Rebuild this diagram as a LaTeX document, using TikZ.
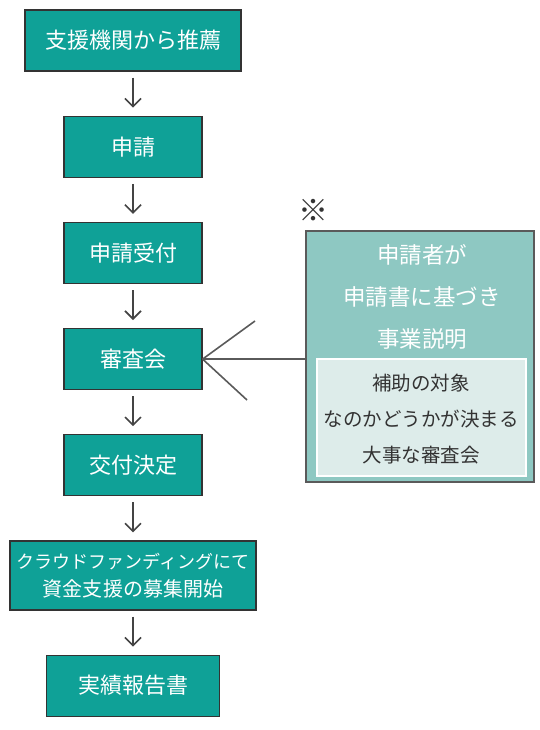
\documentclass[tikz,border=0pt]{standalone}
\usepackage{fontspec}
\newfontfamily\jp{Noto Sans CJK JP}
\usetikzlibrary{arrows.meta,positioning}
\definecolor{stepteal}{HTML}{0FA197}
\definecolor{boxline}{HTML}{333333}
\definecolor{arrowgray}{HTML}{444444}
\definecolor{notefill}{HTML}{8EC8C2}
\definecolor{notegray}{HTML}{5A5A5A}
\definecolor{innerfill}{HTML}{DDECEA}
\definecolor{darktext}{HTML}{333333}

\begin{document}
\begin{tikzpicture}[x=1pt,y=1pt,node distance=44pt,
  stepbox/.style={rectangle,draw=boxline,line width=1.2pt,fill=stepteal,text=white,minimum height=61pt,inner sep=0pt,font=\jp\fontsize{22pt}{26pt}\selectfont},
  flow/.style={draw=arrowgray,line width=1.6pt,-{Straight Barb[length=8pt,width=16pt,line width=1.6pt]},shorten <=6pt,shorten >=8pt},
  fanline/.style={draw=notegray,line width=1.6pt}]

\useasboundingbox (0,0) rectangle (540,-730);

% Nodes
\node[stepbox,minimum width=216pt] (recommend) at (133,-40.5) {支援機関から推薦};
\node[stepbox,minimum width=138pt,below=of recommend] (apply) {申請};
\node[stepbox,minimum width=138pt,below=of apply] (accept) {申請受付};
\node[stepbox,minimum width=138pt,below=of accept] (review) {審査会};
\node[stepbox,minimum width=138pt,below=of review] (grant) {交付決定};
\node[stepbox,minimum width=246pt,minimum height=69pt,align=center,font=\jp\fontsize{18pt}{28pt}\selectfont,below=of grant] (funding) {クラウドファンディングにて\\\fontsize{20pt}{28pt}\selectfont 資金支援の募集開始};
\node[stepbox,minimum width=173pt,below=of funding] (report) {実績報告書};

% note box
\node[draw=notegray,line width=1.6pt,fill=notefill,minimum width=228pt,minimum height=251pt,inner sep=0pt] (note) at (420,-356.5) {};
\node[draw=white,line width=1.2pt,fill=innerfill,minimum width=209pt,minimum height=117pt,inner sep=0pt] (detail) at (421.5,-417.5) {};
\node[align=center,text=white,font=\jp\fontsize{22.5pt}{42pt}\selectfont] (notetext) at (422,-297) {申請者が\\申請書に基づき\\事業説明};
\node[align=center,text=darktext,font=\jp\fontsize{19.5pt}{36pt}\selectfont] (detailtext) at (421,-419) {補助の対象\\なのかどうかが決まる\\大事な審査会};
\node[text=darktext,font=\jp\fontsize{30pt}{30pt}\selectfont] (asterism) at (313,-210) {※};

%arcs
\draw[flow] (recommend) -- (apply);
\draw[flow] (apply) -- (accept);
\draw[flow] (accept) -- (review);
\draw[flow] (review) -- (grant);
\draw[flow] (grant) -- (funding);
\draw[flow] (funding) -- (report);

\coordinate (fanup) at (255,-321);
\coordinate (fandown) at (247,-400);
\draw[fanline] (review.east) -- (review.east -| note.west);
\draw[fanline] (review.east) -- (fanup);
\draw[fanline] (review.east) -- (fandown);

\end{tikzpicture}
\end{document}
